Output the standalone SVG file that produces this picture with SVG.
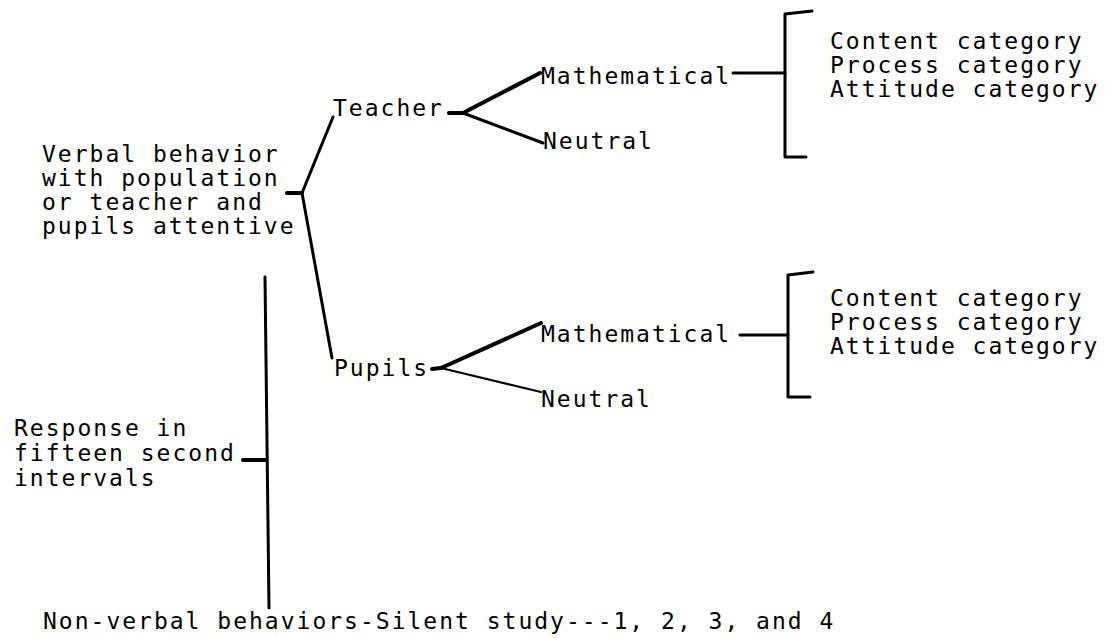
<svg xmlns="http://www.w3.org/2000/svg" width="1105" height="638" viewBox="0 0 1105 638">
<style>
text{font-family:"DejaVu Sans Mono","Liberation Mono",monospace;font-size:23px;letter-spacing:2px;fill:#000}
.l{stroke:#000;stroke-width:3;fill:none;stroke-linecap:round;stroke-linejoin:round}
.t{stroke:#000;stroke-width:2.3;fill:none;stroke-linecap:round}
.k{stroke:#000;stroke-width:4;fill:none;stroke-linecap:round}
</style>
<rect width="1105" height="638" fill="#fff"/>
<g id="verbal"><text x="42" y="162">Verbal behavior</text><text x="42" y="186">with population</text><text x="42" y="210">or teacher and</text><text x="42" y="234">pupils attentive</text></g>
<g id="teacher"><text x="333" y="116">Teacher</text></g>
<g id="t-math"><text x="541" y="84">Mathematical</text></g>
<g id="t-neutral"><text x="543" y="149">Neutral</text></g>
<g id="t-cats"><text x="830" y="49">Content category</text><text x="830" y="73">Process category</text><text x="830" y="97">Attitude category</text></g>
<g id="pupils"><text x="334" y="376">Pupils</text></g>
<g id="p-math"><text x="541" y="342">Mathematical</text></g>
<g id="p-neutral"><text x="541" y="407">Neutral</text></g>
<g id="p-cats"><text x="830" y="306">Content category</text><text x="830" y="330">Process category</text><text x="830" y="354">Attitude category</text></g>
<g id="response"><text x="14" y="436">Response in</text><text x="14" y="461">fifteen second</text><text x="14" y="486">intervals</text></g>
<g id="nonverbal"><text x="43" y="629">Non-verbal behaviors-Silent study---1, 2, 3, and 4</text></g>
<g id="connectors">
<path class="k" d="M287 193H302"/>
<path class="l" d="M333 117L302 193L332 358"/>
<path class="k" d="M449 113H463"/>
<path class="k" d="M463 113L540 73"/>
<path class="l" d="M463 113L543 143"/>
<path class="k" d="M432 369L441 368"/>
<path class="k" d="M441 368L541 323"/>
<path class="t" d="M441 368L541 392"/>
<path class="l" d="M733 73H785"/>
<path class="l" d="M812 11L785 14V157H806"/>
<path class="l" d="M740 335H788"/>
<path class="l" d="M813 272L788 275V397H810"/>
<path class="l" d="M265 277L269 608"/>
<path class="k" d="M243 460H265"/>
</g>
</svg>
